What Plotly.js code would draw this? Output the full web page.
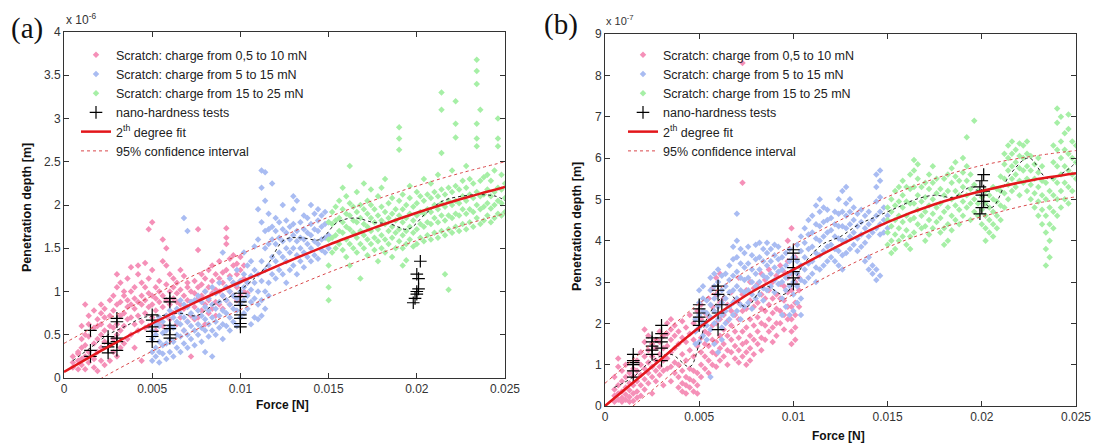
<!DOCTYPE html>
<html><head><meta charset="utf-8">
<script src="https://cdn.plot.ly/plotly-3.0.1.min.js"></script>
<style>html,body{margin:0;padding:0;background:#fff}#chart{width:1093px;height:446px}</style>
</head><body><div id="chart"></div>
<script>
// ---------- Panel (a) data (depth in units of 1e-6 m) ----------
const pinkAx = [0.0005,0.0008,0.0010,0.0012,0.0014,0.0017,0.0019,0.0021,0.0023,0.0026,0.0028,0.0030,0.0032,0.0034,0.0036,0.0038,0.0040,0.0042,0.0044,0.0046,0.0048,0.0050,0.0052,0.0054,0.0056,0.0058,0.0060,0.0062,0.0064,0.0066,0.0068,0.0070,0.0072,0.0074,0.0076,0.0078,0.0080,0.0082,0.0084,0.0086,0.0088,0.0090,0.0092,0.0094,0.0096,0.0098,0.0100,0.0102,0.0104];
const pinkAy = [[0.12,0.18,0.25],[0.1,0.2,0.3,0.28],[0.15,0.22,0.35,0.45,0.6],[0.1,0.25,0.38,0.5,0.85],[0.18,0.3,0.48,0.62,0.72],[0.12,0.22,0.4,0.58,0.78],[0.08,0.3,0.45,0.6,0.68],[0.2,0.35,0.5,0.62,0.75,0.85],[0.15,0.42,0.55,0.7,0.8],[0.2,0.38,0.6,0.72,0.9],[0.3,0.45,0.58,0.78,0.95],[0.25,0.5,0.62,0.85,1.05,1.2],[0.35,0.55,0.72,0.88,1.1],[0.4,0.6,0.75,0.95,1.0],[0.45,0.68,0.82,0.9,1.15],[0.5,0.7,0.85,1.0,1.28],[0.35,0.62,0.8,0.92,1.05],[0.55,0.72,0.88,1.2,1.3],[0.2,0.65,0.85,0.95,1.1],[0.58,0.75,0.9,1.05,1.33],[0.6,0.82,0.98,1.15,1.72],[0.7,0.85,0.95,1.25,1.8],[0.55,0.78,0.92,1.05],[0.65,0.88,1.0,1.12],[0.6,0.82,0.95,1.35,1.6],[0.72,0.9,1.08,1.3,1.5],[0.68,0.85,1.0,1.2],[0.75,0.92,1.05,1.15],[0.62,0.88,0.98,1.1],[0.7,0.85,1.02,1.25],[0.55,0.8,0.95,1.18],[0.65,0.9,1.05,1.1],[0.25,0.72,0.88,1.0],[0.68,0.82,0.98,1.12],[0.7,0.92,1.05,1.48,1.72],[0.78,0.95,1.08,1.2],[0.62,0.85,1.0,1.15],[0.75,0.9,1.05,1.25],[0.8,0.98,1.12,1.3],[0.72,0.88,1.02,1.2],[0.85,1.0,1.15,1.35],[0.8,0.95,1.1,1.22],[0.9,1.05,1.25,1.55,1.62,1.73],[0.85,1.0,1.18,1.38],[0.95,1.1,1.3,1.42],[0.9,1.05,1.2,1.32],[0.95,1.12,1.25,1.4],[1.0,1.15,1.3],[0.98,1.1]];

const blueAx = [0.0050,0.0052,0.0054,0.0056,0.0058,0.0060,0.0062,0.0064,0.0066,0.0068,0.0070,0.0072,0.0074,0.0076,0.0078,0.0080,0.0082,0.0084,0.0086,0.0088,0.0090,0.0092,0.0094,0.0096,0.0098,0.0100,0.0102,0.0104,0.0106,0.0108,0.0110,0.0112,0.0114,0.0116,0.0118,0.0120,0.0122,0.0124,0.0126,0.0128,0.0130,0.0132,0.0134,0.0136,0.0138,0.0140,0.0142,0.0144,0.0146,0.0148,0.0150];
const blueAy = [[0.2,0.3,0.45,0.55],[0.25,0.35,0.5,0.62],[0.18,0.3,0.42,0.6,0.7],[0.28,0.38,0.52,0.65],[0.22,0.4,0.55,0.72],[0.3,0.45,0.6,0.78],[0.25,0.42,0.58,0.7],[0.35,0.5,0.65,0.8],[0.3,0.48,0.62,0.75,0.9],[0.4,0.55,0.7,0.85,1.85],[0.35,0.5,0.65,0.82,1.7],[0.45,0.6,0.75,0.88],[0.38,0.55,0.7,0.9],[0.5,0.62,0.78,0.95],[0.42,0.58,0.72,0.88],[0.3,0.55,0.68,0.82,1.0],[0.48,0.62,0.78,0.92],[0.25,0.55,0.7,0.85,1.05],[0.5,0.65,0.8,0.98],[0.58,0.72,0.88,1.1],[0.45,0.62,0.78,0.95,1.45],[0.6,0.75,0.9,1.05],[0.55,0.7,0.85,1.0,1.15],[0.65,0.8,0.95,1.1],[0.6,0.78,0.92,1.08,1.25],[0.7,0.85,1.0,1.12],[0.75,0.9,1.05,1.2,1.45],[0.8,0.95,1.1,1.3],[0.62,0.88,1.02,1.18,1.35],[0.7,0.92,1.1,1.25,1.52],[0.68,0.85,1.0,1.2,1.6,1.95],[0.72,0.9,1.12,1.35,1.8,2.2,2.4],[0.8,1.0,1.25,1.5,1.7,2.05,2.38],[0.95,1.1,1.3,1.55,1.72,1.9],[1.2,1.4,1.6,1.75,2.25],[1.15,1.35,1.55,1.7,1.85],[1.25,1.45,1.62,1.8],[1.2,1.4,1.58,1.72,2.0],[1.1,1.35,1.5,1.68,1.82],[1.25,1.45,1.6,1.75],[1.3,1.5,1.65,1.78,1.95,2.1],[1.2,1.42,1.58,1.7,2.05],[1.35,1.5,1.62,1.8],[1.28,1.45,1.6,1.72,1.88],[1.4,1.55,1.68,1.85],[1.35,1.5,1.65,1.78,2.0],[1.42,1.58,1.72,1.9],[1.38,1.55,1.7,1.82,1.95],[1.48,1.6,1.75,1.88],[1.45,1.62,1.78,1.92],[1.5,1.65,1.8]];

const greenAx = [0.0150,0.0152,0.0154,0.0156,0.0158,0.0160,0.0162,0.0164,0.0166,0.0168,0.0170,0.0172,0.0174,0.0176,0.0178,0.0180,0.0182,0.0184,0.0186,0.0188,0.0190,0.0192,0.0194,0.0196,0.0198,0.0200,0.0202,0.0204,0.0206,0.0208,0.0210,0.0212,0.0214,0.0216,0.0218,0.0220,0.0222,0.0224,0.0226,0.0228,0.0230,0.0232,0.0234,0.0236,0.0238,0.0240,0.0242,0.0244,0.0246,0.0248,0.0250];
const greenAy = [[0.9,1.05,1.3,1.6,1.8],[1.45,1.62,1.78,1.92],[1.5,1.65,1.82,1.98],[1.55,1.7,1.85,2.05],[1.48,1.68,1.8,1.95,2.2],[1.4,1.6,1.75,1.9,2.1],[1.3,1.55,1.72,1.88,2.02,2.45],[1.5,1.68,1.82,1.98],[1.45,1.62,1.8,1.92,2.15],[1.15,1.55,1.7,1.85,2.0],[1.5,1.65,1.78,1.95,2.25],[1.42,1.6,1.75,1.9,2.05],[1.55,1.7,1.85,2.0,2.18],[1.48,1.62,1.8,1.95],[1.35,1.58,1.72,1.88,2.1],[1.5,1.65,1.82,1.98,2.2],[1.45,1.6,1.78,1.92,2.3],[1.55,1.7,1.85,2.02],[1.4,1.62,1.75,1.9,2.08],[1.5,1.68,1.82,1.95],[1.58,1.72,1.88,2.05,2.64,2.77,2.9],[1.3,1.5,1.65,1.8,1.95,2.12],[1.36,1.55,1.7,1.85,2.0],[1.6,1.75,1.9,2.08,2.22],[1.52,1.68,1.82,1.98],[1.55,1.72,1.88,2.02,2.15],[1.62,1.78,1.92,2.1],[1.58,1.75,1.9,2.05,2.3],[1.65,1.8,1.95,2.12],[1.6,1.78,1.92,2.08,2.25],[1.68,1.85,2.0,2.15],[1.62,1.8,1.95,2.1,2.35],[1.7,1.88,2.02,2.18,2.6,3.1,3.3],[1.2,1.65,1.82,1.98,2.12],[1.02,1.72,1.88,2.05,2.2],[1.68,1.85,2.0,2.15,2.4],[1.75,1.9,2.05,2.22,2.78,2.94,3.2],[1.7,1.88,2.02,2.18],[1.78,1.95,2.1,2.28],[1.72,1.9,2.05,2.2,2.45],[1.8,1.95,2.12,2.3],[1.75,1.92,2.08,2.25],[1.85,2.0,2.15,2.68,2.77,2.94,3.4,3.55,3.68],[1.78,1.95,2.1,2.28,3.1],[1.82,1.98,2.12,2.32],[1.88,2.02,2.18,2.35],[1.8,1.96,2.1,2.28],[1.85,2.0,2.15,2.4],[1.9,2.05,2.2,2.68,2.77,3.0],[1.88,2.02,2.18,2.35],[1.92,2.08,2.25]];

const crossAx = [0.0015,0.0015,0.0015,0.0025,0.0025,0.0025,0.0025,0.003,0.003,0.003,0.003,0.003,0.005,0.005,0.005,0.005,0.005,0.005,0.006,0.006,0.006,0.006,0.006,0.006,0.01,0.01,0.01,0.01,0.01,0.01,0.01,0.01,0.0198,0.0199,0.0200,0.0200,0.0201,0.0201,0.0200,0.0202];
const crossAy = [0.25,0.32,0.55,0.29,0.36,0.4,0.48,0.32,0.42,0.46,0.65,0.69,0.42,0.48,0.54,0.59,0.67,0.73,0.46,0.5,0.57,0.61,0.88,0.92,0.59,0.63,0.69,0.73,0.84,0.88,0.94,0.98,0.87,0.92,0.97,1.0,1.03,1.15,1.2,1.35];

const fitX = [0,0.0025,0.005,0.0075,0.01,0.0125,0.015,0.0175,0.02,0.0225,0.025];
const fitA   = [0.07,0.36,0.63,0.88,1.11,1.33,1.54,1.73,1.91,2.07,2.21];
const ciUpA  = [0.40,0.68,0.95,1.20,1.43,1.65,1.86,2.05,2.22,2.37,2.50];
const ciLoA  = [-0.26,0.04,0.31,0.56,0.79,1.01,1.22,1.41,1.59,1.76,1.90];
const smoothAx = [0.0005,0.0015,0.0025,0.0035,0.0045,0.0055,0.0065,0.0075,0.0085,0.0095,0.0105,0.0115,0.0125,0.0135,0.0145,0.0155,0.0165,0.0175,0.0185,0.0195,0.0205,0.0215,0.0225,0.0235,0.0245,0.025];
const smoothAy = [0.2,0.35,0.5,0.6,0.7,0.72,0.75,0.72,0.85,0.95,1.1,1.3,1.6,1.62,1.6,1.8,1.85,1.8,1.78,1.72,1.9,2.05,2.1,2.12,2.1,2.05];

// ---------- Panel (b) data (depth in units of 1e-7 m) ----------
const pinkBx = [0.0005,0.0007,0.0009,0.0011,0.0013,0.0015,0.0017,0.0019,0.0021,0.0023,0.0025,0.0027,0.0029,0.0031,0.0033,0.0035,0.0037,0.0039,0.0041,0.0043,0.0045,0.0047,0.0049,0.0051,0.0053,0.0055,0.0057,0.0059,0.0061,0.0063,0.0065,0.0067,0.0069,0.0071,0.0073,0.0075,0.0077,0.0079,0.0081,0.0083,0.0085,0.0087,0.0089,0.0091,0.0093,0.0095,0.0097,0.0099,0.0101,0.0103];
const pinkBy = [[0.1,0.25,0.4,0.7],[0.15,0.3,0.5,0.95,1.15],[0.1,0.2,0.35,0.6,0.85],[0.15,0.28,0.45,0.7,1.0],[0.1,0.22,0.38,0.55,0.8],[0.12,0.3,0.5,0.72,0.9],[0.2,0.35,0.6,0.85,1.1],[0.25,0.5,0.75,1.0,1.3],[0.4,0.65,0.9,1.2,1.55,1.85],[0.55,0.8,1.05,1.35,1.7],[0.3,0.7,0.95,1.2,1.5],[0.6,0.85,1.1,1.4,1.6],[0.75,0.95,1.25,1.55,1.8],[0.5,0.85,1.1,1.4,1.7],[0.9,1.15,1.45,1.75,2.0],[0.6,0.95,1.3,1.6,1.85,2.1],[0.8,1.05,1.4,1.7,1.95],[0.45,0.7,1.0,1.5,1.8],[0.35,0.55,0.85,1.25,1.65,2.05],[0.3,0.5,0.7,1.1,1.55,1.9],[0.45,0.65,0.9,1.35,1.75,2.2],[0.35,0.6,0.85,1.2,1.6,2.0],[0.3,0.5,0.8,1.45,1.85,2.3],[0.7,1.0,1.3,1.65,2.1,2.45],[0.9,1.2,1.5,1.8,2.25],[0.8,1.1,1.45,1.75,2.15,2.6],[1.0,1.3,1.6,1.95,2.4,2.85],[0.95,1.25,1.55,2.0,2.7,3.1],[1.1,1.4,1.7,2.1,2.5,3.2],[1.2,1.5,1.85,2.2,2.6],[1.0,1.35,1.7,2.05,2.45],[1.3,1.6,1.95,2.3,2.75],[1.15,1.45,1.8,2.2,2.55],[1.05,1.35,1.65,2.1,2.5,3.1],[1.2,1.5,1.8,2.3,2.7,5.4,8.3],[1.0,1.3,1.55,1.9,2.35,2.8],[1.1,1.4,1.7,2.1,2.55,3.0],[1.25,1.6,1.95,2.4,2.85],[1.5,1.8,2.15,2.5,2.95],[1.35,1.65,2.0,2.35,2.7,3.2],[1.6,1.95,2.3,2.6,3.05],[1.8,2.1,2.45,2.8,3.3],[1.55,1.9,2.25,2.6,3.0],[1.7,2.0,2.35,2.7,3.15],[2.0,2.3,2.6,2.95,3.4],[1.85,2.2,2.55,2.9,3.25],[2.1,2.4,2.75,3.1,3.5,4.0],[1.5,1.8,2.1,2.4,2.8,3.2,4.3],[1.6,1.9,2.2,2.5,3.0,3.6],[2.4,2.8,3.1]];

const blueBx = [0.0048,0.0050,0.0052,0.0054,0.0056,0.0058,0.0060,0.0062,0.0064,0.0066,0.0068,0.0070,0.0072,0.0074,0.0076,0.0078,0.0080,0.0082,0.0084,0.0086,0.0088,0.0090,0.0092,0.0094,0.0096,0.0098,0.0100,0.0102,0.0104,0.0106,0.0108,0.0110,0.0112,0.0114,0.0116,0.0118,0.0120,0.0122,0.0124,0.0126,0.0128,0.0130,0.0132,0.0134,0.0136,0.0138,0.0140,0.0142,0.0144,0.0146,0.0148,0.0150];
const blueBy = [[1.5,1.8,2.1],[1.55,1.9,2.2,2.5,2.8],[1.7,2.0,2.3,2.6,2.9],[1.6,1.95,2.25,2.55],[0.7,1.85,2.15,2.45,2.8,3.1],[1.5,2.0,2.3,2.6,2.9,3.2],[1.3,2.1,2.4,2.7,3.0,3.3],[1.6,1.9,2.2,2.5,2.8,3.15],[2.0,2.3,2.6,2.9,3.2],[2.1,2.4,2.75,3.05,3.4],[2.2,2.5,2.8,3.15,3.55,3.85],[2.3,2.6,2.9,3.25,3.6,4.0,4.65],[2.1,2.45,2.8,3.1,3.45,3.8],[2.4,2.75,3.05,3.35,3.7],[2.5,2.8,3.1,3.45,3.85],[2.35,2.7,3.0,3.3,3.65],[2.6,2.9,3.2,3.55,3.9],[2.7,3.0,3.3,3.6,3.95],[2.55,2.85,3.15,3.5,3.8],[2.8,3.1,3.4,3.7,3.95],[2.9,3.2,3.5,3.8],[2.75,3.05,3.35,3.65,3.9],[2.95,3.25,3.55,3.85],[2.2,2.6,3.0,3.3,3.6],[2.4,2.8,3.1,3.4,3.7],[2.2,2.9,3.2,3.5,3.8],[2.3,2.7,3.0,3.3,3.6],[2.5,2.9,3.2,3.5,3.9],[2.2,2.6,3.05,3.4,3.75,4.1],[3.0,3.3,3.6,3.95,4.3],[3.1,3.45,3.8,4.15,4.5],[3.2,3.5,3.85,4.2,4.6],[3.0,3.35,3.7,4.05,4.4,4.85],[3.3,3.65,4.0,4.35,4.7,5.0],[3.4,3.75,4.1,4.45,4.8],[3.5,3.85,4.2,4.5,4.75],[3.6,3.9,4.25,4.55],[3.5,3.8,4.1,4.4,4.7],[3.4,3.75,4.05,4.35,4.65,5.0],[3.3,3.65,4.0,4.35,4.7,5.2],[3.7,4.0,4.3,4.6,4.9,5.3],[3.8,4.1,4.4,4.7,5.0],[3.9,4.2,4.5,4.8],[3.75,4.05,4.35,4.65],[3.85,4.15,4.45,4.75],[3.5,3.95,4.3,4.6],[3.3,3.6,4.1,4.4,4.7],[3.2,3.4,4.2,4.5],[3.05,3.3,4.3,4.6,4.95,5.3,5.6],[3.15,4.15,4.4,4.7,5.05,5.45,5.7],[4.2,4.5,4.8],[4.3,4.6]];

const greenBx = [0.0150,0.0152,0.0154,0.0156,0.0158,0.0160,0.0162,0.0164,0.0166,0.0168,0.0170,0.0172,0.0174,0.0176,0.0178,0.0180,0.0182,0.0184,0.0186,0.0188,0.0190,0.0192,0.0194,0.0196,0.0198,0.0200,0.0202,0.0204,0.0206,0.0208,0.0210,0.0212,0.0214,0.0216,0.0218,0.0220,0.0222,0.0224,0.0226,0.0228,0.0230,0.0232,0.0234,0.0236,0.0238,0.0240,0.0242,0.0244,0.0246,0.0248,0.0250];
const greenBy = [[3.9,4.2,4.5,4.8],[3.7,4.0,4.35,4.7,5.0],[3.8,4.15,4.5,4.85,5.2],[4.0,4.3,4.6,4.95,5.3],[4.1,4.45,4.8,5.1,5.45],[3.9,4.25,4.6,4.95,5.3],[3.8,4.1,4.5,4.9,5.25,5.6],[4.2,4.55,4.9,5.3,5.7,5.95],[4.4,4.75,5.1,5.5,5.85],[4.3,4.6,4.95,5.3],[4.0,4.35,4.7,5.05,5.4],[4.15,4.5,4.85,5.25,5.6],[4.3,4.65,5.0,5.4,5.8],[4.45,4.8,5.15,5.5],[4.2,4.55,4.9,5.25],[3.9,4.3,4.7,5.1,5.5],[4.0,4.4,4.8,5.2,5.6],[4.25,4.6,5.0,5.4,5.75],[4.5,4.85,5.2,5.55,5.9],[4.4,4.75,5.1,5.45],[4.6,4.95,5.3,5.65,6.0],[4.8,5.1,5.45,5.8,6.5],[4.5,4.9,5.25,5.6],[4.7,5.0,5.35,6.9],[4.6,4.9,5.2],[4.4,4.75,5.05],[4.0,4.3,4.6,4.9,5.2],[4.2,4.5,4.8,5.1],[4.1,4.4,4.7,5.0,5.3],[4.3,4.6,4.95,5.25],[4.5,4.85,5.2,5.55],[4.8,5.15,5.5,5.85,6.1],[5.0,5.35,5.7,6.0,6.3],[5.2,5.5,5.8,6.1,6.4],[5.3,5.6,5.9,6.2],[5.1,5.45,5.75,6.05,6.35],[5.4,5.7,6.0,6.3],[5.2,5.5,5.8,6.1,6.4],[5.0,5.35,5.7,6.05],[4.8,5.15,5.5,5.85],[4.6,4.95,5.3,5.65,6.0],[4.4,4.75,5.1,5.45,5.8],[3.4,3.8,4.2,4.6,5.0,5.4],[3.6,4.0,4.4,4.8,5.2],[4.3,4.7,5.1,5.5,5.9,6.3],[4.6,5.0,5.4,5.8,6.2,6.85,7.2],[4.8,5.2,5.6,6.0,6.4,7.0],[5.0,5.4,5.8,6.2,6.6],[4.9,5.3,5.7,6.1,6.7,7.05],[5.2,5.6,6.0,6.4],[5.5,5.9,6.3]];

const crossBx = [0.0015,0.0015,0.0015,0.0015,0.0015,0.0015,0.0025,0.0025,0.0025,0.0025,0.0025,0.003,0.003,0.003,0.003,0.003,0.003,0.005,0.005,0.005,0.005,0.005,0.005,0.006,0.006,0.006,0.006,0.006,0.0062,0.01,0.01,0.01,0.01,0.01,0.01,0.01,0.0199,0.0200,0.0201,0.0200,0.0201,0.0199,0.0200,0.0201];
const crossBy = [0.7,0.85,1.0,1.05,1.1,1.25,1.25,1.35,1.45,1.55,1.65,1.1,1.4,1.55,1.65,1.75,1.95,1.95,2.05,2.15,2.25,2.35,2.45,1.85,2.25,2.7,2.8,2.9,2.45,2.95,3.1,3.25,3.35,3.55,3.7,3.78,4.65,4.8,4.95,5.1,5.2,5.3,5.45,5.6];

const fitB   = [0,0.95,1.9,2.68,3.3,3.9,4.45,4.88,5.2,5.45,5.63];
const ciUpB  = [0.55,1.52,2.48,3.27,3.9,4.5,5.06,5.5,5.82,6.03,6.18];
const ciLoB  = [-0.55,0.38,1.32,2.09,2.7,3.3,3.84,4.26,4.58,4.87,5.06];
const smoothBx = [0.0005,0.0015,0.0025,0.0035,0.0045,0.005,0.0055,0.0065,0.0075,0.0085,0.0095,0.0105,0.0115,0.0125,0.0135,0.0145,0.0155,0.0165,0.0175,0.0185,0.0195,0.0205,0.0215,0.0225,0.0235,0.0245,0.025];
const smoothBy = [0.45,0.7,1.1,1.25,0.95,1.5,2.2,2.7,2.4,2.9,2.7,3.4,3.9,4.1,4.4,4.6,4.8,5.0,5.1,5.05,5.3,4.8,5.6,6.0,5.5,5.7,5.9];

const xTicks = [0,0.005,0.01,0.015,0.02,0.025];
const xTickText = ['0','0.005','0.01','0.015','0.02','0.025'];
const yTicksA = [0,0.5,1,1.5,2,2.5,3,3.5,4];
const yTickTextA = ['0','0.5','1','1.5','2','2.5','3','3.5','4'];
const yTicksB = [0,1,2,3,4,5,6,7,8,9];
const yTickTextB = ['0','1','2','3','4','5','6','7','8','9'];

const legendNames = ['Scratch: charge from 0,5 to 10 mN','Scratch: charge from 5 to 15 mN','Scratch: charge from 15 to 25 mN','nano-hardness tests','2<sup>th</sup> degree fit','95% confidence interval'];

// ---------- build ----------
const W = 1093, H = 446;
const px = v => v / W, py = v => 1 - v / H;
function expand(xs, ys){ const X=[],Y=[]; xs.forEach((x,i)=>ys[i].forEach(y=>{X.push(x);Y.push(y);})); return [X,Y]; }
const PINK='#f590b8', BLUE='#a9bcf2', GREEN='#a6efa6', RED='#e3161b', CIRED='#d9474a';
const font = 'Liberation Sans, Arial, sans-serif';

function panel(xa, ya, leg, pink, blue, green, cx, cy, fit, up, lo, sx, sy){
  const [px1,py1]=expand(pink[0],pink[1]);
  const [px2,py2]=expand(blue[0],blue[1]);
  const [px3,py3]=expand(green[0],green[1]);
  const mk = (c)=>({symbol:'diamond',size:5,color:c,line:{width:0}});
  return [
    {type:'scatter',mode:'markers',x:px1,y:py1,xaxis:xa,yaxis:ya,legend:leg,name:legendNames[0],marker:mk(PINK)},
    {type:'scatter',mode:'markers',x:px2,y:py2,xaxis:xa,yaxis:ya,legend:leg,name:legendNames[1],marker:mk(BLUE)},
    {type:'scatter',mode:'markers',x:px3,y:py3,xaxis:xa,yaxis:ya,legend:leg,name:legendNames[2],marker:mk(GREEN)},
    {type:'scatter',mode:'lines',x:sx,y:sy,xaxis:xa,yaxis:ya,showlegend:false,line:{color:'#222',width:1,dash:'dot',shape:'spline'}},
    {type:'scatter',mode:'markers',x:cx,y:cy,xaxis:xa,yaxis:ya,legend:leg,name:legendNames[3],marker:{symbol:'cross-thin',size:9,color:'#000',line:{color:'#000',width:1.2}}},
    {type:'scatter',mode:'lines',x:fitX,y:fit,xaxis:xa,yaxis:ya,legend:leg,name:legendNames[4],line:{color:RED,width:2.5,shape:'spline'}},
    {type:'scatter',mode:'lines',x:fitX,y:up,xaxis:xa,yaxis:ya,legend:leg,name:legendNames[5],legendgroup:'ci'+leg,line:{color:CIRED,width:1,dash:'dot',shape:'spline'}},
    {type:'scatter',mode:'lines',x:fitX,y:lo,xaxis:xa,yaxis:ya,legend:leg,showlegend:false,legendgroup:'ci'+leg,line:{color:CIRED,width:1,dash:'dot',shape:'spline'}}
  ];
}

const data = [
  ...panel('x','y','legend',[pinkAx,pinkAy],[blueAx,blueAy],[greenAx,greenAy],crossAx,crossAy,fitA,ciUpA,ciLoA,smoothAx,smoothAy),
  ...panel('x2','y2','legend2',[pinkBx,pinkBy],[blueBx,blueBy],[greenBx,greenBy],crossBx,crossBy,fitB,ciUpB,ciLoB,smoothBx,smoothBy)
];

const axBase = {showline:true,linecolor:'#333',linewidth:1,mirror:'ticks',ticks:'inside',ticklen:5,tickcolor:'#333',showgrid:false,zeroline:false,fixedrange:true,tickfont:{family:font,size:12,color:'#333'}};
const legBase = {bgcolor:'rgba(0,0,0,0)',borderwidth:0,font:{family:font,size:12.5,color:'#222'},xanchor:'left',yanchor:'top',tracegroupgap:0};

const ann = (text,x,y,opts)=>Object.assign({text,x:px(x),y:py(y),xref:'paper',yref:'paper',xanchor:'center',yanchor:'middle',showarrow:false,font:{family:font,size:12,color:'#222'}},opts||{});

const layout = {
  width:W,height:H,margin:{l:0,r:0,t:0,b:0},paper_bgcolor:'#fff',plot_bgcolor:'#fff',
  xaxis: Object.assign({},axBase,{domain:[px(64),px(505)],range:[0,0.025],tickvals:xTicks,ticktext:xTickText,anchor:'y'}),
  yaxis: Object.assign({},axBase,{domain:[py(378),py(32)],range:[0,4],tickvals:yTicksA,ticktext:yTickTextA,anchor:'x'}),
  xaxis2: Object.assign({},axBase,{domain:[px(605),px(1076)],range:[0,0.025],tickvals:xTicks,ticktext:xTickText,anchor:'y2'}),
  yaxis2: Object.assign({},axBase,{domain:[py(406),py(34)],range:[0,9],tickvals:yTicksB,ticktext:yTickTextB,anchor:'x2'}),
  legend: Object.assign({},legBase,{x:px(76),y:py(40)}),
  legend2: Object.assign({},legBase,{x:px(623),y:py(40)}),
  annotations:[
    ann('(a)',27,29,{font:{family:'Liberation Serif, Times New Roman, serif',size:29,color:'#111'}}),
    ann('(b)',561,24,{font:{family:'Liberation Serif, Times New Roman, serif',size:29,color:'#111'}}),
    ann('x 10<sup>-6</sup>',64,19,{xanchor:'left',font:{family:font,size:12,color:'#333'}}),
    ann('x 10<sup>-7</sup>',604,20,{xanchor:'left',font:{family:font,size:11,color:'#333'}}),
    ann('<b>Force [N]</b>',282,405,{font:{family:font,size:12,color:'#111'}}),
    ann('<b>Force [N]</b>',838,436,{font:{family:font,size:12,color:'#111'}}),
    ann('<b>Penetration depth [m]</b>',27,208,{textangle:-90,font:{family:font,size:12.5,color:'#111'}}),
    ann('<b>Penetration depth [m]</b>',577,227,{textangle:-90,font:{family:font,size:12.5,color:'#111'}})
  ]
};

Plotly.newPlot('chart', data, layout, {displayModeBar:false,staticPlot:true});
</script></body></html>
